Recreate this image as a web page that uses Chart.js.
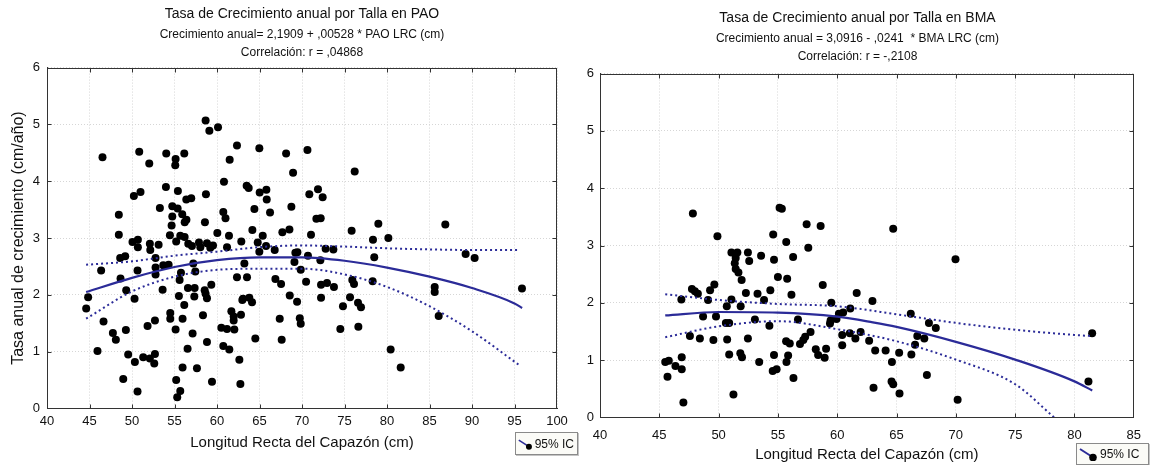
<!DOCTYPE html>
<html>
<head>
<meta charset="utf-8">
<script src="https://cdn.jsdelivr.net/npm/chart.js@4/dist/chart.umd.min.js"></script>
<style>
  html, body { margin: 0; padding: 0; background: #fff; }
  #wrap { position: relative; width: 1151px; height: 465px; overflow: hidden; font-family: "Liberation Sans", Arial, sans-serif; }
  .panel { position: absolute; top: 0; width: 575px; height: 465px; }
  .legend-box { position: absolute; display: flex; align-items: center; gap: 1px; box-sizing: border-box; white-space: nowrap;
    border: 1px solid #8a8a8a; background: #fbfbf7; box-shadow: 1px 1px 0 #c4c4c4;
    font-size: 12px; color: #111; padding: 0 3px 0 2px; }
</style>
</head>
<body>
<div id="wrap">
  <div class="panel" style="left:0"><canvas id="pao-canvas" width="575" height="465"></canvas></div>
  <div class="panel" style="left:576px"><canvas id="bma-canvas" width="575" height="465"></canvas></div>
  <div class="legend-box" id="pao-legend" style="left:515px; top:432px; width:63px; height:23px;"></div>
  <div class="legend-box" id="bma-legend" style="left:1076px; top:443px; width:73px; height:22px;"></div>
</div>
<script>
// ---- PAO (left panel) ----
const paoLrc = [
  46.53, 50.85, 52.03, 54.03, 55.13, 55.09, 56.15, 58.66, 59.10, 60.12, 62.35, 61.49, 64.98, 68.13, 68.95, 70.64,
  60.82, 50.22, 51.00, 53.99, 55.40, 56.39, 56.97, 58.70, 63.49, 63.73, 65.02, 65.81, 65.85, 66.24, 68.75, 70.86,
  48.45, 48.45, 53.28, 54.74, 55.37, 54.74, 55.91, 54.66, 56.40, 56.20, 58.58, 60.74, 61.00, 64.40,
  54.46, 55.20, 55.68, 56.19, 60.04, 61.41, 64.16, 65.38, 67.69, 68.52,
  50.06, 50.69, 50.69, 52.10, 52.15, 53.13, 56.62, 57.05, 57.88, 58.04, 58.82, 59.21, 59.53, 61.18, 62.86,
  64.79, 64.98, 65.77, 66.79, 48.61, 49.20, 52.77, 69.22, 69.46,
  46.37, 48.65, 50.65, 52.77, 52.77, 53.68, 54.31, 57.21, 57.45, 55.76, 55.60, 63.22, 62.35, 63.53, 69.11,
  69.85, 70.48, 66.87, 67.54, 44.84, 44.61, 49.32, 50.30, 53.60, 55.52, 56.58, 57.37, 58.55, 58.66, 58.82,
  59.33, 57.33, 56.15, 54.50, 54.50, 55.95, 55.13, 57.13, 58.35, 58.82, 57.64, 55.95, 55.20, 55.68, 55.32,
  56.54, 59.41, 60.51, 61.18, 62.04, 61.69, 61.96, 61.96, 62.82, 62.98, 63.06, 63.80, 64.12, 60.74, 61.45,
  62.63, 62.75, 64.51, 67.38, 67.61, 68.56, 69.42, 69.74, 69.85, 46.65, 47.75, 48.10, 49.28, 45.94, 49.55,
  50.34, 51.32, 52.10, 52.70, 52.62, 51.83, 52.70, 48.97, 50.65,
  71.88, 72.43, 71.69, 72.20, 71.06, 76.20, 75.84, 78.98, 78.35, 80.16, 86.86, 78.50, 72.78, 73.69, 89.25,
  90.31, 70.70,
  72.16, 72.24, 72.94, 73.76, 75.92, 76.12, 78.31, 72.24, 75.65, 74.82, 76.59, 76.94, 74.51, 76.63, 85.61,
  85.61, 86.08, 80.43, 81.61, 95.88,
];
const paoRate = [
  4.42, 4.52, 4.31, 4.49, 4.39, 4.28, 4.49, 5.07, 4.89, 4.95, 4.63, 4.38, 4.58, 4.49, 4.15, 4.55,
  3.99, 3.74, 3.81, 3.90, 3.83, 3.68, 3.70, 3.77, 3.92, 3.88, 3.80, 3.85, 3.68, 3.45, 3.55, 3.77,
  3.41, 3.06, 3.53, 3.56, 3.52, 3.38, 3.42, 3.22, 3.32, 3.28, 3.28, 3.46, 3.35, 3.51,
  3.05, 2.94, 3.04, 3.02, 3.09, 3.04, 3.14, 3.04, 3.10, 3.15,
  2.93, 2.97, 2.84, 2.90, 2.79, 2.88, 2.90, 2.86, 2.92, 2.84, 2.91, 2.83, 2.87, 2.84, 2.94,
  2.92, 2.76, 2.86, 2.79, 2.65, 2.68, 2.65, 2.74, 2.75,
  2.43, 2.29, 2.43, 2.48, 2.36, 2.52, 2.53, 2.55, 2.41, 2.39, 2.26, 2.55, 2.31, 2.31, 2.58,
  2.44, 2.23, 2.28, 2.19, 1.96, 1.76, 2.08, 1.93, 2.09, 1.98, 2.12, 2.12, 2.08, 2.02, 1.94,
  2.18, 1.97, 1.82, 1.68, 1.58, 1.58, 1.39, 1.32, 1.64, 1.17, 0.71, 0.72, 0.50, 0.31, 0.20,
  1.05, 0.47, 1.42, 1.40, 1.39, 1.71, 1.62, 1.55, 1.65, 1.91, 1.93, 1.95, 1.87, 1.10, 1.04,
  0.86, 0.43, 1.23, 1.58, 1.21, 1.99, 1.88, 1.59, 1.49, 1.53, 1.33, 1.21, 1.38, 1.01, 0.95,
  0.82, 0.90, 0.88, 0.96, 0.79, 1.45, 1.55, 0.52, 0.30,
  3.86, 3.72, 3.34, 3.35, 3.06, 4.17, 3.13, 3.25, 2.97, 3.00, 3.24, 2.66, 2.81, 2.80, 2.72,
  2.65, 2.69,
  2.61, 2.18, 2.21, 2.14, 2.26, 2.19, 2.24, 1.95, 1.96, 1.80, 1.86, 1.78, 1.40, 1.44, 2.14,
  2.05, 1.63, 1.04, 0.72, 2.11,
];
const paoFitX   = [44.6, 50, 55, 60, 65, 70, 75, 80, 85, 90, 95, 95.9];
const paoFit    = [2.05, 2.30, 2.49, 2.61, 2.66, 2.66, 2.60, 2.48, 2.32, 2.12, 1.85, 1.77];
const paoCiX    = [44.6, 50, 55, 60, 65, 70, 75, 80, 85, 90, 95.5];
const paoCiHigh = [2.53, 2.59, 2.69, 2.76, 2.84, 2.87, 2.85, 2.82, 2.80, 2.79, 2.79];
const paoCiLow  = [1.58, 2.06, 2.32, 2.44, 2.46, 2.46, 2.36, 2.14, 1.80, 1.36, 0.77];

// ---- BMA (right panel) ----
const bmaLrc = [
  47.83, 49.90, 55.14, 55.33, 57.42, 58.60, 54.60, 55.70, 57.56, 51.08, 51.58, 52.47, 51.44, 51.36, 52.58,
  53.58, 54.67, 56.28, 51.44, 51.67, 51.94, 55.00, 55.78, 58.78, 49.64, 49.28, 47.75, 48.00, 48.25, 46.86,
  49.11, 51.08, 52.30, 53.28, 53.83, 54.36, 56.14, 50.69, 51.86, 59.50, 61.10, 61.64, 62.97,
  64.72, 69.97,
  48.69, 49.78, 50.61, 50.89, 53.06, 54.28, 56.69, 59.44, 59.39, 60.14, 60.50, 59.94, 47.58, 48.42, 49.56,
  50.72, 52.47, 55.69, 56.00, 56.86, 57.14, 57.30, 57.75, 58.19, 58.39, 58.94, 59.06, 60.42, 60.42, 61.06,
  61.53, 61.97, 62.69, 63.20, 50.89, 51.83, 51.97, 53.42, 54.67, 55.86, 55.72, 45.50, 45.80, 46.36, 46.89,
  46.89, 45.69, 54.56, 54.89, 56.31, 51.25, 47.03, 63.06,
  66.20, 67.73, 68.31, 66.75, 67.34, 66.56, 66.25, 64.08, 65.22, 64.61, 64.58, 64.72, 65.25, 67.56, 70.15,
  81.49, 81.18,
];
const bmaRate = [
  3.56, 3.16, 3.66, 3.64, 3.37, 3.34, 3.19, 3.06, 2.96, 2.88, 2.88, 2.88, 2.78, 2.69, 2.73,
  2.82, 2.75, 2.80, 2.59, 2.53, 2.40, 2.45, 2.42, 2.31, 2.32, 2.22, 2.24, 2.20, 2.16, 2.06,
  2.05, 2.06, 2.17, 2.16, 2.05, 2.22, 2.14, 1.94, 1.94, 2.00, 1.90, 2.17, 2.03,
  3.29, 2.76,
  1.76, 1.76, 1.65, 1.65, 1.71, 1.60, 1.71, 1.69, 1.64, 1.81, 1.83, 1.72, 1.42, 1.38, 1.35,
  1.36, 1.38, 1.33, 1.29, 1.28, 1.35, 1.41, 1.49, 1.19, 1.09, 1.04, 1.20, 1.44, 1.26, 1.47,
  1.38, 1.49, 1.34, 1.17, 1.10, 1.12, 1.05, 0.97, 1.09, 1.08, 0.97, 0.97, 0.99, 0.90, 1.05,
  0.84, 0.71, 0.81, 0.84, 0.69, 0.40, 0.26, 0.52,
  1.81, 1.65, 1.56, 1.42, 1.38, 1.27, 1.10, 1.17, 1.13, 0.97, 0.63, 0.58, 0.42, 0.74, 0.31,
  1.47, 0.63,
];
const bmaFitX    = [45.5, 50, 55, 60, 63, 65, 70, 75, 80, 81.5];
const bmaFit     = [1.78, 1.84, 1.83, 1.76, 1.66, 1.58, 1.32, 1.01, 0.63, 0.47];
const bmaCiX     = [45.5, 50, 55, 60, 65, 70, 75, 80, 81.5];
const bmaCiHigh  = [2.15, 2.05, 1.98, 1.94, 1.80, 1.65, 1.53, 1.44, 1.42];
const bmaCiLowX  = [45.5, 50, 55, 60, 65, 70, 75, 78.3];
const bmaCiLow   = [1.40, 1.59, 1.68, 1.54, 1.33, 1.01, 0.58, 0.0];

const xTitle = 'Longitud Recta del Capazón (cm)';
const yTitle = 'Tasa anual de crecimiento (cm/año)';
const legendLabel = '95% IC';

const FONT = '"Liberation Sans", Arial, Helvetica, sans-serif';
const INK = '#111';
const LINE = '#2b2b98';

const pairs = (xs, ys) => xs.map((x, i) => ({ x, y: ys[i] }));

// plot box with small inward ticks, like the original statistics output
const framePlugin = {
  id: 'frame',
  afterDraw(chart) {
    const { ctx, chartArea: a, scales: { x, y } } = chart;
    const l = Math.round(a.left) + 0.5, r = Math.round(a.right) - 0.5;
    const t = Math.round(a.top) + 0.5, b = Math.round(a.bottom) - 0.5;
    ctx.save();
    ctx.strokeStyle = '#333';
    ctx.lineWidth = 1;
    ctx.strokeRect(l, t, r - l, b - t);
    ctx.beginPath();
    x.ticks.forEach(tk => {
      const px = Math.min(r, Math.max(l, Math.round(x.getPixelForValue(tk.value)) + 0.5));
      ctx.moveTo(px, t); ctx.lineTo(px, t + 4);
      ctx.moveTo(px, b); ctx.lineTo(px, b - 4);
    });
    y.ticks.forEach(tk => {
      const py = Math.min(b, Math.max(t, Math.round(y.getPixelForValue(tk.value)) + 0.5));
      ctx.moveTo(l, py); ctx.lineTo(l + 4, py);
      ctx.moveTo(r, py); ctx.lineTo(r - 4, py);
    });
    ctx.stroke();
    ctx.restore();
  },
};

function _datasets(p) {
  const dotted = { showLine: true, pointRadius: 0, borderColor: LINE, borderWidth: 2, borderDash: [2, 3],
    tension: 0.4, cubicInterpolationMode: 'monotone', fill: false };
  return [
    { data: pairs(p.fitX, p.fit), showLine: true, pointRadius: 0, borderColor: LINE, borderWidth: 2.2,
      tension: 0.4, cubicInterpolationMode: 'monotone', fill: false },
    { data: pairs(p.ciX, p.ciHigh), ...dotted },
    { data: pairs(p.ciLowX, p.ciLow), ...dotted },
    { data: pairs(p.lrc, p.rate), showLine: false, pointRadius: 4, pointBackgroundColor: '#000',
      pointBorderColor: '#000', pointBorderWidth: 0 },
  ];
}

function makePanel(canvasId, p) {
  return new Chart(document.getElementById(canvasId), {
    type: 'scatter',
    data: { datasets: _datasets(p) },
    plugins: [framePlugin],
    options: {
      responsive: false,
      animation: false,
      events: [],
      layout: { padding: { left: 0, right: p.padRight, top: 0, bottom: 0 } },
      plugins: {
        legend: { display: false },
        tooltip: { enabled: false },
        title: { display: true, fullSize: p.fullSize, text: p.title, color: INK,
          font: { family: FONT, size: 14, weight: 'normal', lineHeight: 1.2 },
          padding: { top: p.titleTop, bottom: 0 } },
        subtitle: { display: true, fullSize: p.fullSize, text: p.subtitle, color: INK,
          font: { family: FONT, size: 12, lineHeight: 1.5 },
          padding: { top: p.subTop, bottom: p.subBottom } },
      },
      scales: {
        x: {
          type: 'linear', min: p.xMin, max: p.xMax,
          afterFit: s => { s.height = p.xHeight; },
          ticks: { stepSize: 5, padding: p.xTickPad, color: INK, font: { family: FONT, size: 13 } },
          grid: { color: '#d6d6d6', lineWidth: 1, drawTicks: false },
          border: { color: '#333', dash: [1, 2] },
          title: { display: true, text: xTitle, color: INK, font: { family: FONT, size: 15 },
            padding: { top: 2, bottom: p.xTitleBottom } },
        },
        y: {
          min: 0, max: 6,
          afterFit: s => { s.width = p.yWidth; },
          ticks: { stepSize: 1, padding: p.yTickPad, color: INK, font: { family: FONT, size: 13 } },
          grid: { color: '#d6d6d6', lineWidth: 1, drawTicks: false },
          border: { color: '#333', dash: [1, 2] },
          title: { display: !!p.yTitle, text: p.yTitle || '', color: INK, font: { family: FONT, size: 16 },
            padding: { top: 8.5, bottom: 0 } },
        },
      },
    },
  });
}

makePanel('pao-canvas', {
  lrc: paoLrc, rate: paoRate,
  fitX: paoFitX, fit: paoFit, ciX: paoCiX, ciHigh: paoCiHigh, ciLowX: paoCiX, ciLow: paoCiLow,
  title: 'Tasa de Crecimiento anual por Talla en PAO',
  subtitle: ['Crecimiento anual= 2,1909 + ,00528 * PAO LRC (cm)', 'Correlación: r = ,04868'],
  fullSize: false, titleTop: 5.6, subTop: 3.6, subBottom: 5.6,
  xMin: 40, xMax: 100, xHeight: 56.5, xTickPad: 5, xTitleBottom: 13,
  yWidth: 47, yTickPad: 7, yTitle: yTitle, padRight: 18,
});

makePanel('bma-canvas', {
  lrc: bmaLrc, rate: bmaRate,
  fitX: bmaFitX, fit: bmaFit, ciX: bmaCiX, ciHigh: bmaCiHigh, ciLowX: bmaCiLowX, ciLow: bmaCiLow,
  title: 'Tasa de Crecimiento anual por Talla en BMA',
  subtitle: ['Crecimiento anual = 3,0916 - ,0241  * BMA LRC (cm)', 'Correlación: r = -,2108'],
  fullSize: true, titleTop: 9.6, subTop: 3.6, subBottom: 7.5,
  xMin: 40, xMax: 85, xHeight: 47.5, xTickPad: 10, xTitleBottom: 1,
  yWidth: 24, yTickPad: 6, yTitle: null, padRight: 12,
});

// legend: slanted fit line with a point, then the label
['pao-legend', 'bma-legend'].forEach(id => {
  document.getElementById(id).innerHTML =
    `<svg width="20" height="14" viewBox="0 0 20 14"><line x1="1" y1="2" x2="15" y2="11" stroke="${LINE}" stroke-width="2"/>` +
    `<circle cx="14" cy="10.5" r="3.8" fill="#000"/></svg><span>${legendLabel}</span>`;
});
</script>
</body>
</html>
